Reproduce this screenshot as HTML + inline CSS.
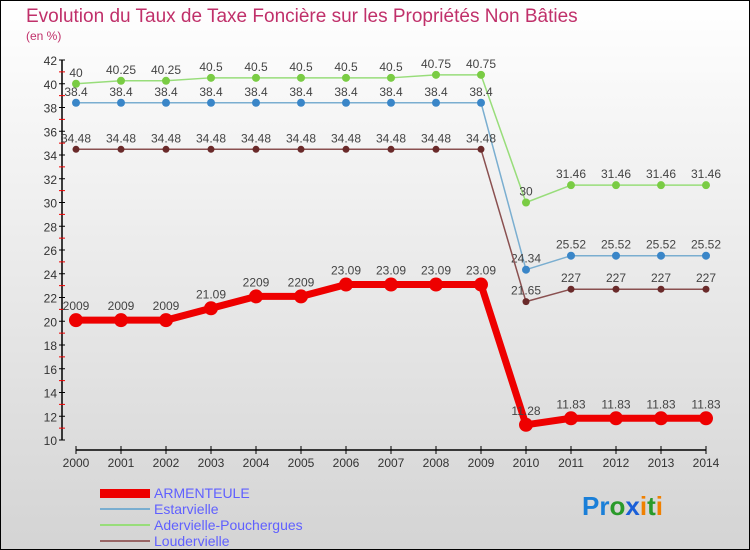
<!DOCTYPE html>
<html><head><meta charset="utf-8"><style>
body{margin:0;width:750px;height:550px;overflow:hidden;font-family:"Liberation Sans",sans-serif}
svg{display:block}
</style></head><body>
<svg id="chart" width="750" height="550" xmlns="http://www.w3.org/2000/svg">
<defs><linearGradient id="bg" x1="0" y1="0" x2="0" y2="1"><stop offset="0" stop-color="#ffffff"/><stop offset="1" stop-color="#d4d4d4"/></linearGradient></defs>
<rect x="0.5" y="0.5" width="749" height="549" fill="url(#bg)" stroke="#000"/>
<text x="26" y="22" font-size="19" fill="#c0306a">Evolution du Taux de Taxe Foncière sur les Propriétés Non Bâties</text>
<text x="26" y="40" font-size="12" fill="#c0306a">(en %)</text>
<g id="axes"></g><g id="series"></g>
<g>
<rect x="100" y="489" width="50" height="9" fill="#ee0000"/>
<text x="154" y="498" font-size="14" fill="#6060ff">ARMENTEULE</text>
<line x1="100" y1="509" x2="150" y2="509" stroke="#7aaed0" stroke-width="2"/>
<text x="154" y="514" font-size="14" fill="#6060ff">Estarvielle</text>
<line x1="100" y1="525" x2="150" y2="525" stroke="#98dd7a" stroke-width="2"/>
<text x="154" y="530" font-size="14" fill="#6060ff">Adervielle-Pouchergues</text>
<line x1="100" y1="541" x2="150" y2="541" stroke="#996666" stroke-width="2"/>
<text x="154" y="546" font-size="14" fill="#6060ff">Loudervielle</text>
</g>
<text x="582" y="515" font-size="26" font-weight="bold"><tspan fill="#1a7fd8">Pr</tspan><tspan fill="#2a9a2a">o</tspan><tspan fill="#1a5fd8">x</tspan><tspan fill="#f08000">i</tspan><tspan fill="#2a9a2a">t</tspan><tspan fill="#f08000">i</tspan></text>
</svg>
<script>
const years=[2000,2001,2002,2003,2004,2005,2006,2007,2008,2009,2010,2011,2012,2013,2014];
const armenteule=[20.09,20.09,20.09,21.09,22.09,22.09,23.09,23.09,23.09,23.09,11.28,11.83,11.83,11.83,11.83];
const estarvielle=[38.4,38.4,38.4,38.4,38.4,38.4,38.4,38.4,38.4,38.4,24.34,25.52,25.52,25.52,25.52];
const adervielle=[40,40.25,40.25,40.5,40.5,40.5,40.5,40.5,40.75,40.75,30,31.46,31.46,31.46,31.46];
const loudervielle=[34.48,34.48,34.48,34.48,34.48,34.48,34.48,34.48,34.48,34.48,21.65,22.7,22.7,22.7,22.7];
const armLabels=["2009","2009","2009","21.09","2209","2209","23.09","23.09","23.09","23.09","11.28","11.83","11.83","11.83","11.83"];
const loudLabels=["34.48","34.48","34.48","34.48","34.48","34.48","34.48","34.48","34.48","34.48","21.65","227","227","227","227"];
const yTicks=[10,12,14,16,18,20,22,24,26,28,30,32,34,36,38,40,42];
const NS="http://www.w3.org/2000/svg";
const x=i=>76+i*45; const y=v=>440-(v-10)*(380/32);
function mk(tag,attrs,parent){const e=document.createElementNS(NS,tag);for(const k in attrs)e.setAttribute(k,attrs[k]);parent.appendChild(e);return e;}
const ax=document.getElementById('axes'), se=document.getElementById('series');
let l=mk('line',{x1:62,y1:y(42),x2:62,y2:y(10),stroke:'#000','stroke-width':1.5},ax);

for(let v=10;v<=42;v++){const t=mk('line',{x1:59,y1:y(v),x2:65,y2:y(v),stroke:v%2?'#e00':'#000'},ax);}
yTicks.forEach(v=>{const t=mk('text',{x:57,y:y(v)+5,'font-size':12,fill:'#333','text-anchor':'end'},ax);t.textContent=v;
});
l=mk('line',{x1:76,y1:450,x2:706,y2:450,stroke:'#000','stroke-width':1.5},ax);

years.forEach((yr,i)=>{mk('line',{x1:x(i),y1:446,x2:x(i),y2:454,stroke:'#000'},ax);
const t=mk('text',{x:x(i),y:467,'font-size':12,fill:'#333','text-anchor':'middle'},ax);t.textContent=yr;
});
function series(vals,labels,color,dot,w,r,name,dy){
const g=mk('g',{},se);
mk('polyline',{points:vals.map((v,i)=>x(i)+','+y(v)).join(' '),fill:'none',stroke:color,'stroke-width':w,'stroke-linejoin':'round'},g);
vals.forEach((v,i)=>{const c=mk('circle',{cx:x(i),cy:y(v),r:r,fill:dot},g);
const t=mk('text',{x:x(i),y:y(v)+dy,'font-size':12,fill:'#444','text-anchor':'middle'},g);t.textContent=labels[i];});}
series(adervielle,adervielle.map(String),'#98dd7a','#7acc44',1.5,4,'adervielle-series',-7);
series(estarvielle,estarvielle.map(String),'#7aaed0','#3a86c8',1.5,4,'estarvielle-series',-7);
series(loudervielle,loudLabels,'#8a5050','#6a2a2a',1.5,3.5,'loudervielle-series',-7);
series(armenteule,armLabels,'#ee0000','#ee0000',7,7,'armenteule-series',-10);
</script>
</body></html>
